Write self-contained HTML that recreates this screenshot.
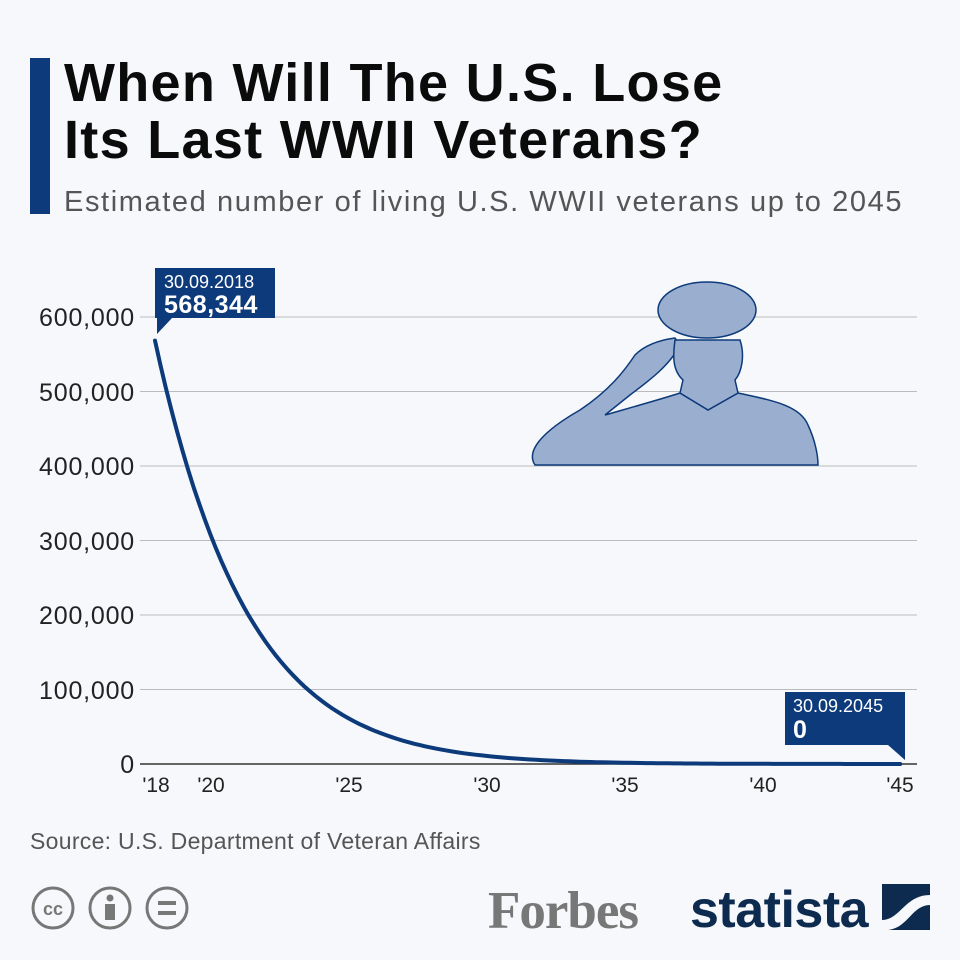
<!DOCTYPE html>
<html><head><style>
body{margin:0;width:960px;height:960px;background:#f6f8fb;font-family:"Liberation Sans",sans-serif;position:relative;overflow:hidden}
.t{position:absolute;left:64px;font-weight:bold;font-size:54px;color:#0b0b0b;letter-spacing:1.3px}
</style></head><body>
<div style="position:absolute;left:30px;top:58px;width:20px;height:156px;background:#0d3a7a"></div>
<div class="t" style="top:52px">When Will The U.S. Lose</div>
<div class="t" style="top:109px">Its Last WWII Veterans?</div>
<div style="position:absolute;left:64px;top:186px;font-size:29px;color:#555;letter-spacing:1.6px">Estimated number of living U.S. WWII veterans up to 2045</div>
<svg width="960" height="960" style="position:absolute;left:0;top:0" font-family="Liberation Sans, sans-serif">
<g stroke="#bbb" stroke-width="1">
<line x1="140" x2="917" y1="317" y2="317"/><line x1="140" x2="917" y1="391.5" y2="391.5"/>
<line x1="140" x2="917" y1="466" y2="466"/><line x1="140" x2="917" y1="540.5" y2="540.5"/>
<line x1="140" x2="917" y1="615" y2="615"/><line x1="140" x2="917" y1="689.5" y2="689.5"/>
</g>
<line x1="140" x2="917" y1="764" y2="764" stroke="#333" stroke-width="1.5"/>
<g font-size="25" fill="#222" text-anchor="end" letter-spacing="0.8">
<text x="135" y="326">600,000</text><text x="135" y="401">500,000</text><text x="135" y="475">400,000</text>
<text x="135" y="550">300,000</text><text x="135" y="624">200,000</text><text x="135" y="699">100,000</text><text x="135" y="773">0</text>
</g>
<g font-size="21" fill="#222" text-anchor="middle">
<text x="156" y="792">'18</text><text x="211" y="792">'20</text><text x="349" y="792">'25</text><text x="487" y="792">'30</text>
<text x="625" y="792">'35</text><text x="763" y="792">'40</text><text x="900" y="792">'45</text>
</g>
<g>
<path d="M535,465 C525,450 545,430 580,410 C610,390 625,370 635,355 C645,345 660,340 675,338 L680,345 C670,365 650,380 630,395 L605,415 C640,405 665,398 680,393 L708,410 L738,393 C770,400 800,405 808,425 C815,440 818,455 818,465 Z" fill="#9aaed0" stroke="#0d3a7a" stroke-width="1.5"/>
<path d="M675,340 L740,340 C745,355 742,372 735,380 L738,393 L708,410 L680,393 L683,380 C672,370 673,355 675,340Z" fill="#9aaed0" stroke="#0d3a7a" stroke-width="1.5"/>
<ellipse cx="707" cy="310" rx="49" ry="28" fill="#9aaed0" stroke="#0d3a7a" stroke-width="1.5"/>
</g>
<path id="c" fill="none" stroke="#0d3a7a" stroke-width="4" stroke-linecap="round"/>
<path d="M155,268 H275 V318 H172 L157,334 V318 H155Z" fill="#0d3a7a"/>
<text x="164" y="288" font-size="18" fill="#fff">30.09.2018</text>
<text x="164" y="313" font-size="25" font-weight="bold" fill="#fff" letter-spacing="0.5">568,344</text>
<path d="M785,692 H905 V760 L888,745 H785Z" fill="#0d3a7a"/>
<text x="793" y="712" font-size="18" fill="#fff">30.09.2045</text>
<text x="793" y="738" font-size="25" font-weight="bold" fill="#fff">0</text>
<text x="30" y="849" font-size="23" fill="#555" letter-spacing="0.3">Source: U.S. Department of Veteran Affairs</text>
<g fill="none" stroke="#777" stroke-width="3">
<circle cx="53" cy="908" r="20"/><circle cx="110" cy="908" r="20"/><circle cx="167" cy="908" r="20"/>
</g>
<text x="53" y="915" font-size="18" font-weight="bold" fill="#777" text-anchor="middle">cc</text>
<circle cx="110" cy="898" r="3.5" fill="#777"/><rect x="105" y="904" width="10" height="16" fill="#777"/>
<rect x="158" y="901" width="18" height="4" fill="#777"/><rect x="158" y="911" width="18" height="4" fill="#777"/>
<text x="488" y="928" font-size="53" font-family="Liberation Serif, serif" font-weight="bold" fill="#777" letter-spacing="-1">Forbes</text>
<text x="690" y="927" font-size="52" font-weight="bold" fill="#0d2a4f" letter-spacing="-0.5">statista</text>
<rect x="882" y="884" width="48" height="46" fill="#0d2a4f"/>
<path d="M882,920 C900,920 905,895 930,895 V905 C912,905 908,928 888,930 H882Z" fill="#f6f8fb"/>
</svg>
<script>
var d="";for(var i=0;i<=135;i++){var t=i/5;var v=568344*Math.exp(-0.3*t-0.0025*t*t);var x=155+t*27.6;var y=764-v/100000*74.5;d+=(i?"L":"M")+x.toFixed(1)+","+y.toFixed(1);}
document.getElementById("c").setAttribute("d",d);
</script>
</body></html>
